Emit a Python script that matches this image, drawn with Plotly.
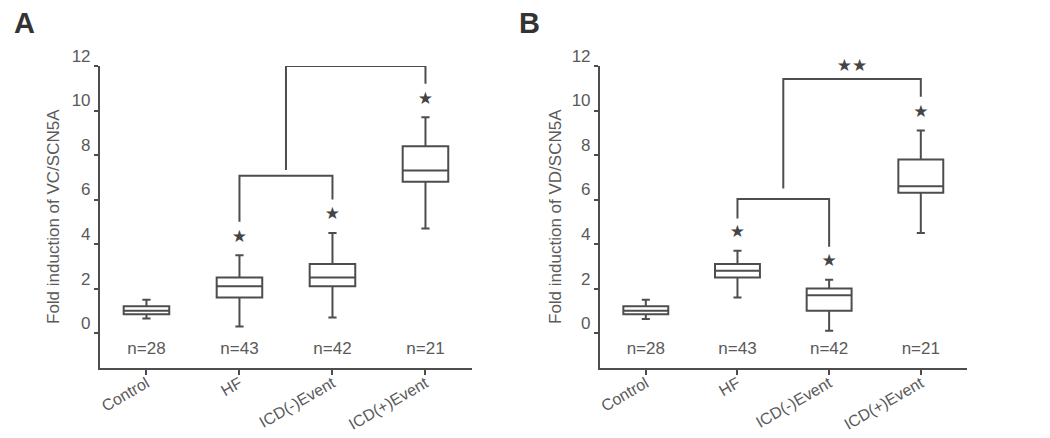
import plotly.graph_objects as go

# Kategorien und Gruppengroessen
groups = ["Control", "HF", "ICD(-)Event", "ICD(+)Event"]
n_labels = ["n=28", "n=43", "n=42", "n=21"]
xpos = list(range(len(groups)))

# Panel A: VC/SCN5A  (min, q1, median, q3, max)
a_min = [0.65, 0.3, 0.7, 4.7]
a_q1 = [0.85, 1.6, 2.1, 6.8]
a_med = [1.0, 2.1, 2.5, 7.3]
a_q3 = [1.2, 2.5, 3.1, 8.4]
a_max = [1.5, 3.5, 4.5, 9.7]
a_star_y = [None, 4.3, 5.3, 10.5]

# Panel B: VD/SCN5A
b_min = [0.63, 1.6, 0.1, 4.5]
b_q1 = [0.85, 2.5, 1.0, 6.3]
b_med = [1.0, 2.8, 1.7, 6.6]
b_q3 = [1.2, 3.1, 2.0, 7.8]
b_max = [1.5, 3.7, 2.4, 9.1]
b_star_y = [None, 4.5, 3.2, 9.9]

# Klammern (Gruppenindex / y-Wert)
a_bracket_low_x = [1, 1, 2, 2]
a_bracket_low_y = [5.0, 7.07, 7.07, 6.0]
a_bracket_high_x = [1.5, 1.5, 3, 3]
a_bracket_high_y = [7.33, 12.0, 12.0, 11.2]
a_dstar = (2.25, 12.55)

b_bracket_low_x = [1, 1, 2, 2]
b_bracket_low_y = [5.15, 6.02, 6.02, 3.88]
b_bracket_high_x = [1.5, 1.5, 3, 3]
b_bracket_high_y = [6.5, 11.42, 11.42, 10.62]
b_dstar = (2.25, 11.95)

LINE = "#4d4d4d"
TXT = "#5a5a5a"
FONT = "Liberation Sans, Arial, sans-serif"

fig = go.Figure()


def add_panel(fig, xa, ya, mn, q1, med, q3, mx, star_y, lx, ly, hx, hy, dstar):
    fig.add_trace(go.Box(
        x=xpos, q1=q1, median=med, q3=q3, lowerfence=mn, upperfence=mx,
        width=0.49, whiskerwidth=0.18,
        fillcolor="white", line=dict(color=LINE, width=2),
        boxpoints=False, showlegend=False, xaxis=xa, yaxis=ya,
        hoverinfo="skip",
    ))
    # Sternchen
    sx = [p for p, s in zip(xpos, star_y) if s is not None]
    sy = [s for s in star_y if s is not None]
    fig.add_trace(go.Scatter(
        x=sx, y=sy, mode="text", text=["★"] * len(sx), cliponaxis=False,
        textfont=dict(size=17, color="#444444", family="DejaVu Sans"),
        showlegend=False, xaxis=xa, yaxis=ya, hoverinfo="skip",
    ))
    # Klammern
    for bx, by in ((lx, ly), (hx, hy)):
        fig.add_trace(go.Scatter(
            x=bx, y=by, mode="lines", line=dict(color=LINE, width=2),
            cliponaxis=False,
            showlegend=False, xaxis=xa, yaxis=ya, hoverinfo="skip",
        ))
    fig.add_trace(go.Scatter(
        x=[dstar[0]], y=[dstar[1]], mode="text", text=["★★"], cliponaxis=False,
        textfont=dict(size=17, color="#444444", family="DejaVu Sans"),
        showlegend=False, xaxis=xa, yaxis=ya, hoverinfo="skip",
    ))
    # n-Werte
    fig.add_trace(go.Scatter(
        x=xpos, y=[-0.76] * len(xpos), mode="text", text=n_labels,
        textfont=dict(size=17, color=TXT, family=FONT),
        showlegend=False, xaxis=xa, yaxis=ya, hoverinfo="skip",
    ))


add_panel(fig, "x", "y", a_min, a_q1, a_med, a_q3, a_max, a_star_y,
          a_bracket_low_x, a_bracket_low_y, a_bracket_high_x, a_bracket_high_y, a_dstar)
add_panel(fig, "x2", "y2", b_min, b_q1, b_med, b_q3, b_max, b_star_y,
          b_bracket_low_x, b_bracket_low_y, b_bracket_high_x, b_bracket_high_y, b_dstar)

xax = dict(
    range=[-0.5, 3.5], tickvals=xpos, ticktext=groups, automargin=False,
    showline=True, linecolor=LINE, linewidth=2,
    ticks="outside", ticklen=5, tickwidth=2, tickcolor=LINE,
    ticklabelstandoff=-7,
    tickangle=-30, showgrid=False, zeroline=False,
    tickfont=dict(size=16, color=TXT, family=FONT),
)
yax = dict(
    range=[-1.57, 12], tickvals=[0, 2, 4, 6, 8, 10, 12], automargin=False,
    showline=True, linecolor=LINE, linewidth=2,
    ticks="outside", ticklen=4, tickwidth=2, tickcolor=LINE,
    ticklabelshift=-10, ticklabelstandoff=0,
    showgrid=False, zeroline=False,
    tickfont=dict(size=17, color=TXT, family=FONT),
    domain=[0.1598, 0.8493],
)

fig.update_layout(
    template="none",
    width=1050, height=438,
    margin=dict(l=0, r=0, t=0, b=0, autoexpand=False),
    plot_bgcolor="white", paper_bgcolor="white",
    xaxis=dict(xax, domain=[0.0952, 0.4495], anchor="y"),
    yaxis=dict(yax, anchor="x"),
    xaxis2=dict(xax, domain=[0.5714, 0.9206], anchor="y2"),
    yaxis2=dict(yax, anchor="x2"),
    annotations=[
        dict(text="<b>A</b>", x=12 / 1050, y=1 - 23 / 438, xref="paper", yref="paper",
             xanchor="left", yanchor="middle", showarrow=False,
             font=dict(size=29, color="#333333", family=FONT)),
        dict(text="<b>B</b>", x=517 / 1050, y=1 - 23 / 438, xref="paper", yref="paper",
             xanchor="left", yanchor="middle", showarrow=False,
             font=dict(size=29, color="#333333", family=FONT)),
        dict(text="Fold induction of VC/SCN5A", x=53 / 1050, y=1 - 217 / 438,
             xref="paper", yref="paper", textangle=-90, showarrow=False,
             xanchor="center", yanchor="middle",
             font=dict(size=17, color=TXT, family=FONT)),
        dict(text="Fold induction of VD/SCN5A", x=555 / 1050, y=1 - 217 / 438,
             xref="paper", yref="paper", textangle=-90, showarrow=False,
             xanchor="center", yanchor="middle",
             font=dict(size=17, color=TXT, family=FONT)),
    ],
)

fig.write_html(
    "out.html",
    config={"displayModeBar": False},
    post_script="document.body.style.margin='0';document.body.style.overflow='hidden';",
)
